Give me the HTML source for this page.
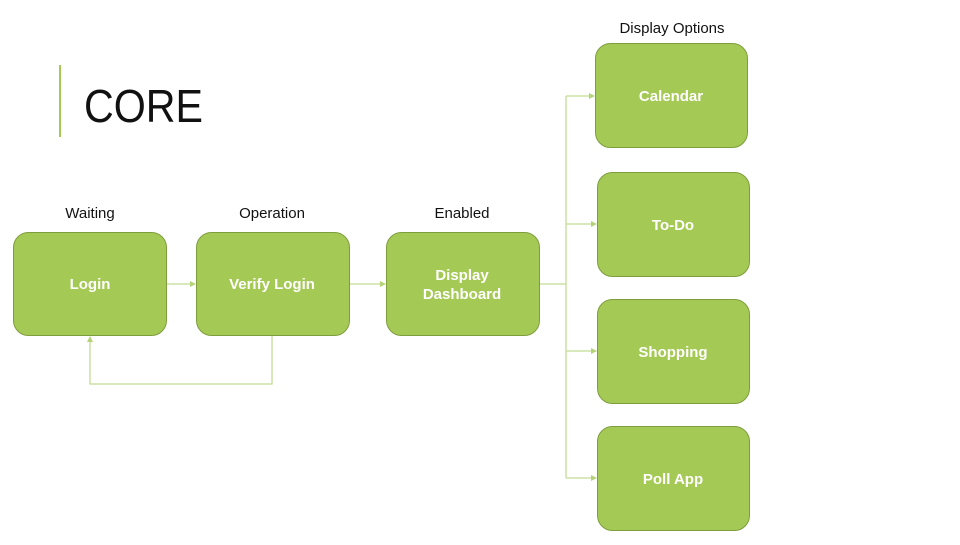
<!DOCTYPE html>
<html><head><meta charset="utf-8"><style>
body{margin:0;width:960px;height:540px;background:#fff;overflow:hidden;font-family:"Liberation Sans",sans-serif}
</style></head><body>
<svg width="960" height="540" viewBox="0 0 960 540" xmlns="http://www.w3.org/2000/svg">
<defs><marker id="a" markerWidth="6" markerHeight="6" refX="5" refY="3" orient="auto" markerUnits="userSpaceOnUse"><path d="M0,0 L6,3 L0,6z" fill="#b5d37a"/></marker></defs>
<rect x="59" y="65" width="2" height="72" fill="#a5c955"/>
<text x="84" y="122" font-size="46" fill="#111" textLength="119" lengthAdjust="spacingAndGlyphs">CORE</text>
<g stroke="#c3dc95" stroke-width="1.3" fill="none">
<line x1="166" y1="284" x2="195" y2="284" marker-end="url(#a)"/>
<line x1="349" y1="284" x2="385" y2="284" marker-end="url(#a)"/>
<polyline points="272,335 272,384 90,384 90,337" marker-end="url(#a)"/>
<line x1="539" y1="284" x2="566" y2="284"/>
<line x1="566" y1="96" x2="566" y2="478"/>
<line x1="566" y1="96" x2="594" y2="96" marker-end="url(#a)"/>
<line x1="566" y1="224" x2="596" y2="224" marker-end="url(#a)"/>
<line x1="566" y1="351" x2="596" y2="351" marker-end="url(#a)"/>
<line x1="566" y1="478" x2="596" y2="478" marker-end="url(#a)"/>
</g>
<g fill="#a5c955" stroke="#7e9d3d" stroke-width="1">
<rect x="13.5" y="232.5" width="153" height="103" rx="15"/>
<rect x="196.5" y="232.5" width="153" height="103" rx="15"/>
<rect x="386.5" y="232.5" width="153" height="103" rx="15"/>
<rect x="595.5" y="43.5" width="152" height="104" rx="15"/>
<rect x="597.5" y="172.5" width="152" height="104" rx="15"/>
<rect x="597.5" y="299.5" width="152" height="104" rx="15"/>
<rect x="597.5" y="426.5" width="152" height="104" rx="15"/>
</g>
<g font-size="15" fill="#111" text-anchor="middle">
<text x="90" y="218">Waiting</text>
<text x="272" y="218">Operation</text>
<text x="462" y="218">Enabled</text>
<text x="672" y="33">Display Options</text>
</g>
<g font-size="15" font-weight="bold" fill="#fff" text-anchor="middle">
<text x="90" y="289">Login</text>
<text x="272" y="289">Verify Login</text>
<text x="462" y="280">Display</text>
<text x="462" y="299">Dashboard</text>
<text x="671" y="101">Calendar</text>
<text x="673" y="230">To-Do</text>
<text x="673" y="357">Shopping</text>
<text x="673" y="484">Poll App</text>
</g>
</svg>
</body></html>
